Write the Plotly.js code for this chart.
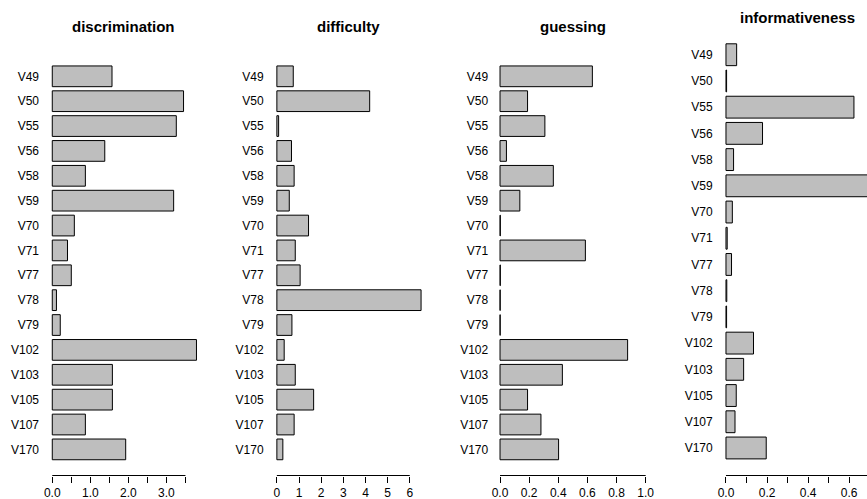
<!DOCTYPE html>
<html><head><meta charset="utf-8">
<script src="https://cdn.plot.ly/plotly-3.0.1.min.js"></script>
<style>html,body{margin:0;padding:0;background:#fff;overflow:hidden}#chart{width:867px;height:499px}</style>
</head><body><div id="chart"></div>
<script>
// ---- data ----
const items = ["V49","V50","V55","V56","V58","V59","V70","V71","V77","V78","V79","V102","V103","V105","V107","V170"];
const discrimination = [1.57,3.45,3.26,1.38,0.87,3.19,0.58,0.40,0.50,0.11,0.21,3.79,1.58,1.58,0.87,1.93];
const difficulty = [0.74,4.19,0.08,0.66,0.78,0.56,1.43,0.83,1.05,6.51,0.68,0.33,0.83,1.66,0.78,0.27];
const guessing = [0.634,0.189,0.308,0.044,0.366,0.136,0.002,0.586,0.002,0.001,0.001,0.876,0.428,0.189,0.281,0.402];
const informativeness = [0.052,0.003,0.623,0.178,0.037,0.70,0.031,0.006,0.027,0.004,0.003,0.134,0.086,0.050,0.044,0.196];
const panelTitles = ["discrimination","difficulty","guessing","informativeness"];
const tickVals1 = [0,0.5,1,1.5,2,2.5,3,3.5];
const tickText1 = ["0.0","","1.0","","2.0","","3.0",""];
const tickVals2 = [0,1,2,3,4,5,6];
const tickText2 = ["0","1","2","3","4","5","6"];
const tickVals3 = [0,0.2,0.4,0.6,0.8,1.0];
const tickText3 = ["0.0","0.2","0.4","0.6","0.8","1.0"];
const tickVals4 = [0,0.1,0.2,0.3,0.4,0.5,0.6,0.7];
const tickText4 = ["0.0","","0.2","","0.4","","0.6",""];

// ---- geometry (px) ----
const W = 867, H = 499;
const series = [discrimination, difficulty, guessing, informativeness];
const tickVals = [tickVals1, tickVals2, tickVals3, tickVals4];
const tickTexts = [tickText1, tickText2, tickText3, tickText4];
const lefts = [45.0, 269.6, 494.2, 718.7];
const rights = [202.3, 426.9, 651.5, 867];
const tops = [50.2, 50.2, 50.2, 27.2];
const bottom = 475.5;
const titleY = [26.7, 26.7, 26.7, 17.3];
const xRanges = [[-0.191, 3.943], [-0.328, 6.773], [-0.04, 1.04], [-0.0354, 0.6866]];

const font = "Liberation Sans, Arial, Helvetica, sans-serif";
const data = [];
const layout = {
  width: W, height: H,
  margin: {l:0, r:0, t:0, b:0},
  paper_bgcolor: "#fff", plot_bgcolor: "#fff",
  showlegend: false,
  bargap: 1 - 1/1.2,
  font: {family: font, size: 12, color: "#000"},
  annotations: [], shapes: []
};

series.forEach((vals, i) => {
  const n = i + 1;
  const xa = "xaxis" + (n === 1 ? "" : n), ya = "yaxis" + (n === 1 ? "" : n);
  const xr = "x" + (n === 1 ? "" : n), yr = "y" + (n === 1 ? "" : n);
  data.push({
    type: "bar", orientation: "h",
    x: vals, y: items, xaxis: xr, yaxis: yr,
    marker: {color: "#bebebe", line: {color: "#000", width: 1}},
    hoverinfo: "x+y"
  });
  layout[xa] = {
    domain: [lefts[i] / W, rights[i] / W],
    range: xRanges[i],
    anchor: yr,
    showgrid: false, zeroline: false, showline: false,
    ticks: "outside", ticklen: 6, tickwidth: 1, tickcolor: "#000",
    tickmode: "array", tickvals: tickVals[i], ticktext: tickTexts[i],
    tickfont: {family: font, size: 12, color: "#000"},
    fixedrange: true
  };
  layout[ya] = {
    domain: [1 - bottom / H, 1 - tops[i] / H],
    type: "category",
    categoryorder: "array", categoryarray: items,
    range: [items.length - 1 + 1.05, -1.05],
    anchor: xr,
    showgrid: false, zeroline: false, showline: false,
    ticks: "", ticklabelstandoff: 5,
    tickfont: {family: font, size: 12, color: "#000"},
    fixedrange: true
  };
  const tv = tickVals[i];
  layout.shapes.push({
    type: "line", xref: xr, yref: "paper",
    x0: tv[0], x1: tv[tv.length - 1],
    y0: 1 - bottom / H, y1: 1 - bottom / H,
    line: {color: "#000", width: 1}
  });
  layout.annotations.push({
    text: "<b>" + panelTitles[i] + "</b>",
    xref: "paper", yref: "paper",
    x: (lefts[i] + 78.65) / W, y: 1 - titleY[i] / H,
    xanchor: "center", yanchor: "middle", showarrow: false,
    font: {family: font, size: 15, color: "#000"}
  });
});

Plotly.newPlot("chart", data, layout, {displayModeBar: false, staticPlot: true});
</script></body></html>
